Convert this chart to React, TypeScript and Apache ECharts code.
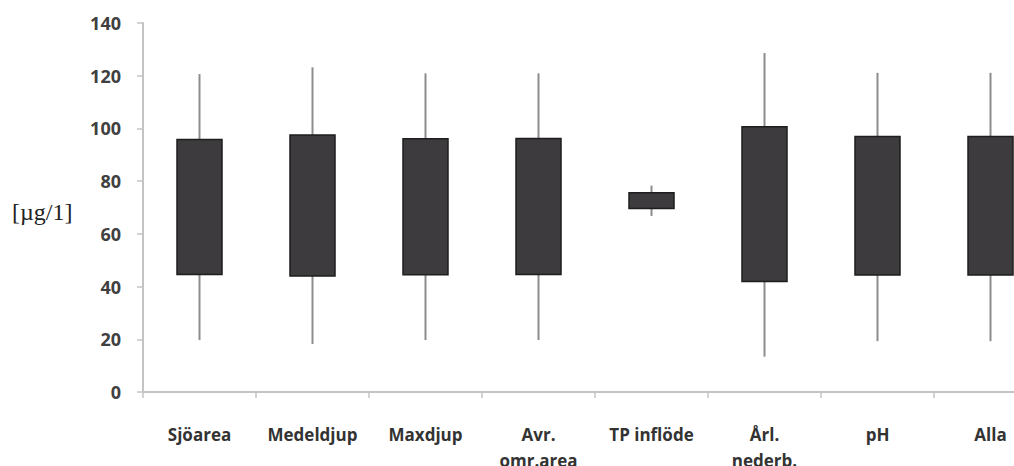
import React, { useEffect, useRef } from "react";
import * as echarts from "echarts";

const categories = ["Sjöarea", "Medeldjup", "Maxdjup", "Avr.\nomr.area", "TP inflöde", "Årl.\nnederb.", "pH", "Alla"];
const whiskerMin = [19.7, 18.2, 19.7, 19.7, 66.8, 13.4, 19.3, 19.3];
const boxLow = [44.6, 44.0, 44.5, 44.6, 69.6, 41.9, 44.4, 44.4];
const boxHigh = [95.8, 97.5, 96.1, 96.2, 75.6, 100.6, 96.9, 96.9];
const whiskerMax = [120.6, 123.2, 120.9, 120.9, 78.3, 128.6, 121.1, 121.1];
const yTicks = [0, 20, 40, 60, 80, 100, 120, 140];

export default function App() {
  const ref = useRef<HTMLDivElement>(null);
  useEffect(() => {
    if (!ref.current) return;
    const chart = echarts.init(ref.current, undefined, { renderer: "svg" });
    const data = categories.map((_, i) => [i, whiskerMin[i], boxLow[i], boxHigh[i], whiskerMax[i]]);
    chart.setOption({
      animation: false,
      backgroundColor: "#ffffff",
      grid: { left: 143, top: 23, width: 904, height: 369, outerBoundsMode: "none", containLabel: false },
      graphic: [
        {
          type: "text",
          left: 12,
          top: 200,
          style: {
            text: "[µg/1]",
            font: '24px "Liberation Serif", "DejaVu Serif", serif',
            fill: "#222222",
          },
        },
      ],
      xAxis: {
        type: "category",
        data: categories,
        boundaryGap: true,
        axisLine: { lineStyle: { color: "#c4c4c4", width: 2 } },
        axisTick: { show: true, length: 6, alignWithLabel: false, lineStyle: { color: "#c4c4c4", width: 1.5 } },
        axisLabel: {
          interval: 0,
          margin: 29,
          lineHeight: 26,
          color: "#333333",
          fontFamily: '"Open Sans", sans-serif',
          fontWeight: "bold",
          fontSize: 17,
        },
      },
      yAxis: {
        type: "value",
        min: yTicks[0],
        max: yTicks[yTicks.length - 1],
        interval: 20,
        splitLine: { show: false },
        axisLine: { show: true, lineStyle: { color: "#c4c4c4", width: 2 } },
        axisTick: { show: true, length: 6, lineStyle: { color: "#c4c4c4", width: 1.5 } },
        axisLabel: {
          margin: 22,
          color: "#404040",
          fontFamily: '"Open Sans", sans-serif',
          fontWeight: "bold",
          fontSize: 18,
        },
      },
      series: [
        {
          type: "custom",
          data,
          clip: false,
          renderItem: (params: any, api: any) => {
            const idx = api.value(0);
            const pMin = api.coord([idx, api.value(1)]);
            const pLow = api.coord([idx, api.value(2)]);
            const pHigh = api.coord([idx, api.value(3)]);
            const pMax = api.coord([idx, api.value(4)]);
            const w = 45;
            const x = pLow[0];
            return {
              type: "group",
              children: [
                {
                  type: "line",
                  shape: { x1: x, y1: pMax[1], x2: x, y2: pHigh[1] },
                  style: { stroke: "#8c8c8c", lineWidth: 2 },
                },
                {
                  type: "line",
                  shape: { x1: x, y1: pLow[1], x2: x, y2: pMin[1] },
                  style: { stroke: "#8c8c8c", lineWidth: 2 },
                },
                {
                  type: "rect",
                  shape: { x: x - w / 2, y: pHigh[1], width: w, height: pLow[1] - pHigh[1] },
                  style: { fill: "#3d3b3d", stroke: "#1e1e1e", lineWidth: 1.5 },
                },
              ],
            };
          },
        },
      ],
    });
    return () => chart.dispose();
  }, []);
  return (
    <div
      ref={ref}
      style={{ position: "absolute", left: 0, top: 0, width: 1014, height: 466 }}
    />
  );
}
